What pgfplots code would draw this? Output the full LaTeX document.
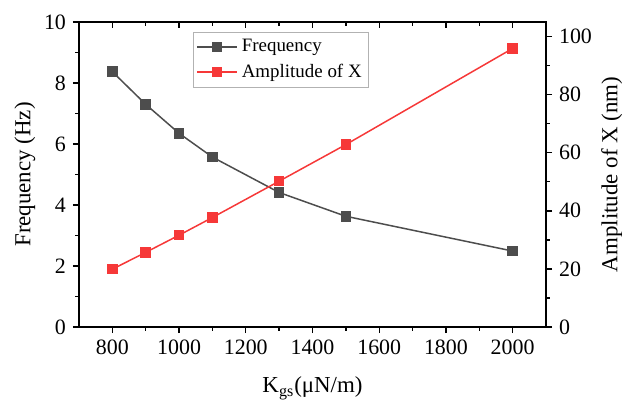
\documentclass[border=0pt]{standalone}
\usepackage{pgfplots}
\pgfplotsset{compat=1.18}
\usepackage{pgfplotstable}
\usepackage{fontspec}
\setmainfont{Liberation Serif}
\definecolor{fgray}{RGB}{77,77,77}
\definecolor{ared}{RGB}{246,56,56}

\pgfplotstableread{
k freq amp
800 8.37 19.9
900 7.30 25.7
1000 6.35 31.6
1100 5.57 37.7
1300 4.41 50.2
1500 3.63 62.8
2000 2.49 95.9
}\data

\pgfplotsset{myax/.style={
  scale only axis, width=233.5bp, height=152.5bp,
  at={(0,0)}, anchor=south west,
  xmin=700, xmax=2100, xtick={800,1000,...,2000}, minor x tick num=1,
  axis line style={line width=0.7pt},
  major tick length=3bp, minor tick length=1.8bp,
  every tick/.style={black, line width=0.7pt},
  tick label style={font=\fontsize{11}{13}\selectfont},
  label style={font=\fontsize{11.5}{13}\selectfont},
  /pgf/number format/assume math mode=true,
  /pgf/number format/1000 sep={},
}}

\begin{document}
\begin{tikzpicture}
\begin{axis}[myax,
  ymin=0, ymax=10, ytick={0,2,...,10}, minor y tick num=1,
  xtick pos=bottom, ytick pos=left, tick align=outside,
  xlabel={K\textsubscript{gs}(μN/m)},
  ylabel={Frequency (Hz)},
  x label style={at={(axis description cs:0.5,-0.2)}, anchor=center},
  y label style={at={(axis description cs:-0.1156,0.5)}, anchor=center},
]
\addplot[fgray, line width=0.75pt, mark=square*, mark size=2.25bp] table[x=k,y=freq]{\data};
\end{axis}
\begin{axis}[myax,
  ymin=0, ymax=10, ytick=\empty,
  xtick pos=top, tick align=inside, xticklabels={},
]
\end{axis}
\begin{axis}[myax,
  ymin=0, ymax=105, ytick={0,20,...,100}, minor y tick num=1,
  xtick=\empty, ytick pos=right, tick align=outside,
  ylabel={Amplitude of X (nm)},
  y label style={at={(axis description cs:1.141,0.5)}, anchor=center, rotate=0},
  legend style={at={(axis description cs:0.244,0.967)}, anchor=north west,
    draw=gray!60, font=\fontsize{9.5}{11}\selectfont, inner sep=1.5bp,
    row sep=0.5bp},
  legend cell align=left,
  legend image code/.code={\draw[mark repeat=2,mark phase=2] plot coordinates {(0bp,0bp)(10bp,0bp)(20bp,0bp)};},
]
\addlegendimage{fgray, line width=0.75pt, mark=square*, mark size=2.25bp}
\addlegendentry{Frequency}
\addplot[ared, line width=0.75pt, mark=square*, mark size=2.25bp] table[x=k,y=amp]{\data};
\addlegendentry{Amplitude of X}
\end{axis}
\pgfresetboundingbox
\path[use as bounding box] (-39.5bp,-38.5bp) rectangle (271.5bp,163.5bp);
\end{tikzpicture}
\end{document}
